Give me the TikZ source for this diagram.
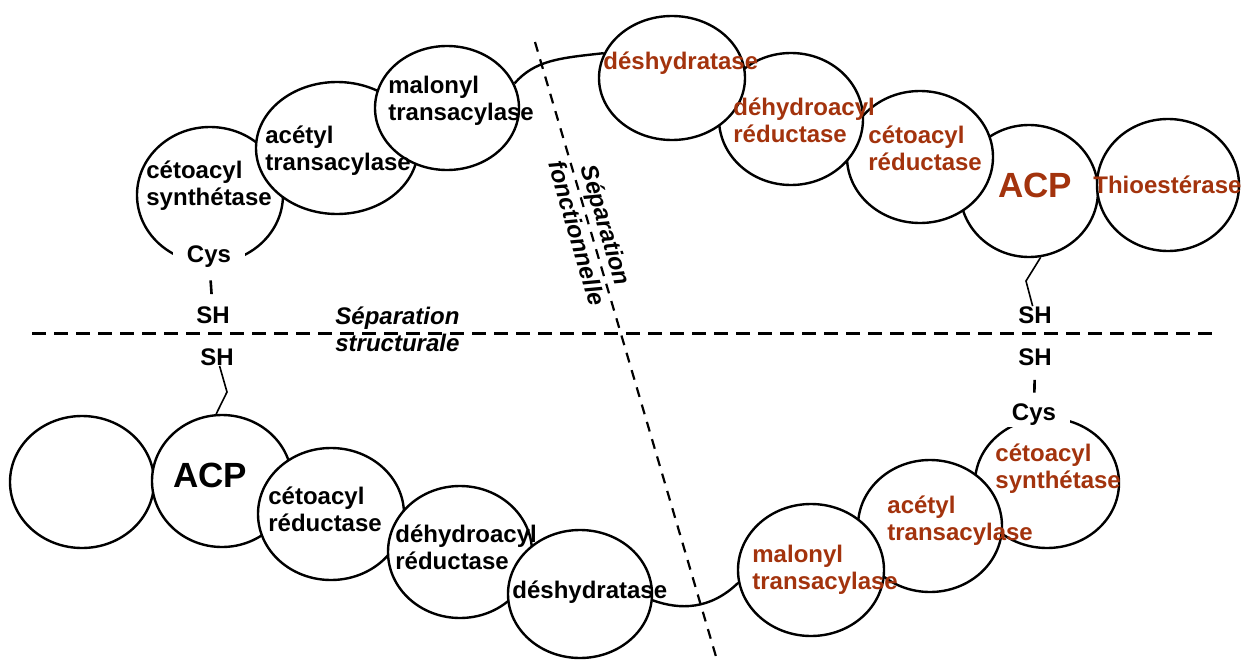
\documentclass[tikz,border=0pt]{standalone}
\usepackage{fontspec}
\setmainfont{Liberation Sans}
\usetikzlibrary{shapes.geometric}
\definecolor{rust}{RGB}{163,51,13}
\begin{document}
\begin{tikzpicture}[x=0.5pt,y=-0.5pt,
  enz/.style={ellipse, draw, fill=white, line width=1.2pt, inner sep=0pt},
  lbl/.style={anchor=west, align=left, inner sep=0pt, font=\bfseries\fontsize{12}{13.5}\selectfont},
  big/.style={anchor=west, inner sep=0pt, font=\bfseries\fontsize{17.5}{20}\selectfont},
  grp/.style={inner sep=0pt, font=\bfseries\fontsize{12}{13.5}\selectfont},
  cys/.style={grp, fill=white, minimum width=36pt, minimum height=12pt},
  sep/.style={align=left, inner sep=0pt, font=\bfseries\itshape\fontsize{12}{13.5}\selectfont}]
\useasboundingbox (0,0) rectangle (1254,664);
% separations
\coordinate (h0) at (32,333);
\coordinate (h1) at (1218,333);
\coordinate (d0) at (535,42);
\coordinate (d1) at (717,660);
\draw[line width=1.5pt, dash pattern=on 7pt off 4pt] (h0) -- (h1);
\draw[line width=1.1pt, dash pattern=on 5pt off 4pt] (d0) -- (d1);
% upper complex
\node[enz, minimum width=73pt, minimum height=68pt] (ks1) at (210,195){};
\node[enz, minimum width=81pt, minimum height=66pt] (at1) at (337,148){};
\node[enz, minimum width=72pt, minimum height=62pt] (mt1) at (447,108){};
\node[enz, minimum width=69pt, minimum height=66pt] (acp1) at (1029,191){};
\node[enz, minimum width=71pt, minimum height=66pt] (te1) at (1168,185){};
\node[enz, minimum width=73pt, minimum height=66pt] (kr1) at (920,157){};
\node[enz, minimum width=72pt, minimum height=66pt] (er1) at (791,119){};
\node[enz, minimum width=73pt, minimum height=62pt] (dh1) at (672,78){};
\draw[line width=1.2pt] (mt1.20) .. controls (535,60) and (560,58) .. (dh1.160);
% lower complex
\node[enz, minimum width=72pt, minimum height=66pt] (e0) at (82,482){};
\node[enz, minimum width=70pt, minimum height=66pt] (acp2) at (222,481){};
\node[enz, minimum width=73pt, minimum height=66pt] (kr2) at (331,514){};
\node[enz, minimum width=72pt, minimum height=66pt] (er2) at (460,552){};
\node[enz, minimum width=72pt, minimum height=64pt] (dh2) at (580,594){};
\node[enz, minimum width=72pt, minimum height=65pt] (ks2) at (1047,483){};
\node[enz, minimum width=72pt, minimum height=66pt] (at2) at (930,526){};
\node[enz, minimum width=73pt, minimum height=66pt] (mt2) at (811,570){};
\draw[line width=1.2pt] (dh2.-5) .. controls (680,610) and (710,610) .. (mt2.190);
% labels
\node[lbl] (t0) at (146,186){cétoacyl\\synthétase};
\node[lbl] (t1) at (265,151){acétyl\\transacylase};
\node[lbl] (t2) at (388,101){malonyl\\transacylase};
\node[lbl, rust] (t3) at (603,63){déshydratase};
\node[lbl, rust] (t4) at (733,120){déhydroacyl\\réductase};
\node[lbl, rust] (t5) at (868,148){cétoacyl\\réductase};
\node[big, rust] (t6) at (998,185){ACP};
\node[lbl, rust] (t7) at (1093,185){Thioestérase};
\node[big] (t8) at (173,475){ACP};
\node[lbl] (t9) at (268,509){cétoacyl\\réductase};
\node[lbl] (t10) at (395,547){déhydroacyl\\réductase};
\node[lbl] (t11) at (512,592){déshydratase};
\node[lbl, rust] (t12) at (752,570){malonyl\\transacylase};
\node[lbl, rust] (t13) at (887,521){acétyl\\transacylase};
\node[lbl, rust] (t14) at (995,469){cétoacyl\\synthétase};
% thiol groups
\node[cys] (cys1) at (209,257){Cys};
\node[grp] (sh1) at (213,315){SH};
\draw[line width=1.3pt, shorten <=5.5pt, shorten >=6pt] (cys1) -- (sh1);
\node[grp] (sh2) at (1035,357){SH};
\node[cys] (cys2) at (1034,415){Cys};
\draw[line width=1.3pt, shorten <=7pt, shorten >=5pt] (sh2) -- (cys2);
\node[grp] (sh3) at (1035,315){SH};
\coordinate (k3) at (1026,281);
\draw[line width=0.8pt] (acp1.-80) -- (k3) -- (sh3);
\node[grp] (sh4) at (217,357){SH};
\coordinate (k4) at (227,392);
\draw[line width=0.8pt] (sh4) -- (k4) -- (acp2.95);
% separation labels
\node[sep, anchor=west] (s0) at (335,329){Séparation\\structurale};
\node[sep, align=center, rotate=-73.7, font=\bfseries\itshape\fontsize{12}{15}\selectfont] (s1) at (592,229){Séparation\\fonctionnelle};
\end{tikzpicture}
\end{document}
